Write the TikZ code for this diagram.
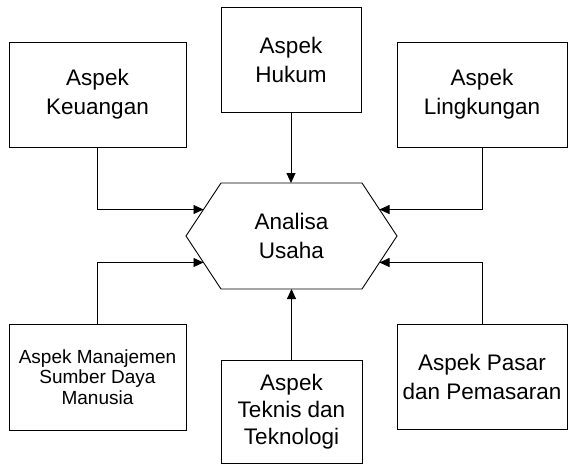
\documentclass[tikz,border=0pt]{standalone}
\usepackage{fontspec}
\setmainfont{Liberation Sans}
\usetikzlibrary{arrows.meta,calc}

\begin{document}
\begin{tikzpicture}[x=1pt,y=-1pt,
	aspek/.style={draw,rectangle,inner sep=0,outer sep=0,line width=0.9pt,align=center,font=\fontsize{22.5}{29}\selectfont},
	panah/.style={line width=0.9pt,-{Triangle[length=10pt,width=9pt]}}]
	\useasboundingbox (0,0) rectangle (568,466);
	\node[aspek,minimum width=177,minimum height=105] (keuangan) at (97.5,94.5) {Aspek\\Keuangan};
	\node[aspek,minimum width=140,minimum height=105] (hukum) at (291,59.5) {Aspek\\Hukum};
	\node[aspek,minimum width=170,minimum height=105] (lingkungan) at (482,94.5) {Aspek\\Lingkungan};
	\node[aspek,minimum width=177,minimum height=106,font=\fontsize{19}{20.5}\selectfont] (manajemen) at (97.5,377) {Aspek Manajemen\\Sumber Daya\\Manusia};
	\node[aspek,minimum width=141,minimum height=103,font=\fontsize{22.5}{27}\selectfont] (teknis) at (291.5,411.5) {Aspek\\Teknis dan\\Teknologi};
	\node[aspek,minimum width=170,minimum height=105] (pasar) at (482,376.5) {Aspek Pasar\\dan Pemasaran};
	% segi enam
	\coordinate (kiri) at (186,236);
	\coordinate (kiriatas) at (221,183);
	\coordinate (kananatas) at (362,183);
	\coordinate (kanan) at (397,236);
	\coordinate (kananbawah) at (362,289);
	\coordinate (kiribawah) at (221,289);
	\draw[line width=0.9pt] (kiri) -- (kiriatas) -- (kananatas) -- (kanan) -- (kananbawah) -- (kiribawah) -- cycle;
	\node[align=center,font=\fontsize{22.5}{29}\selectfont] (analisa) at (291.5,236) {Analisa\\Usaha};
	% panah
	\draw[panah] (keuangan.south) |- ($(kiri)!.5!(kiriatas)$);
	\draw[panah] (hukum.south) -- (hukum.south |- kiriatas);
	\draw[panah] (lingkungan.south) |- ($(kanan)!.5!(kananatas)$);
	\draw[panah] (manajemen.north) |- ($(kiri)!.5!(kiribawah)$);
	\draw[panah] (teknis.north) -- (teknis.north |- kiribawah);
	\draw[panah] (pasar.north) |- ($(kanan)!.5!(kananbawah)$);
\end{tikzpicture}
\end{document}
